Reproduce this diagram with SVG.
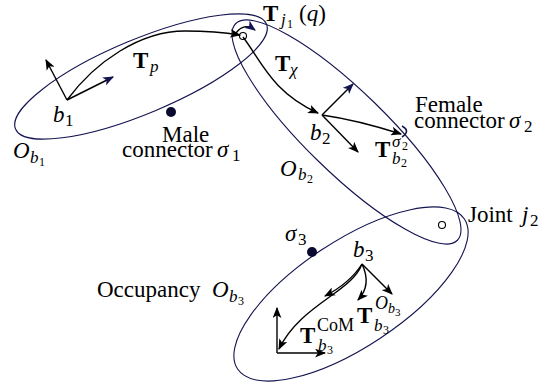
<svg xmlns="http://www.w3.org/2000/svg" width="556" height="392" viewBox="0 0 556 392">
<defs>
<marker id="ah" viewBox="0 0 10 8" refX="9" refY="4" markerWidth="11" markerHeight="9" orient="auto" markerUnits="userSpaceOnUse"><path d="M0,0 L10,4 L0,8 L2.5,4 z" fill="#000"/></marker>
<marker id="ahn" viewBox="0 0 10 8" refX="9" refY="4" markerWidth="11" markerHeight="9" orient="auto" markerUnits="userSpaceOnUse"><path d="M0,0 L10,4 L0,8 L2.5,4 z" fill="#141450"/></marker>
<style>
.occ{fill:none;stroke:#141450;stroke-width:1.1}
.ar{fill:none;stroke:#000;stroke-width:1.4;marker-end:url(#ah)}
.arn{fill:none;stroke:#000;stroke-width:1.4;marker-end:url(#ahn)}
.dot{fill:#0a0a30}
.jt{fill:#fff;stroke:#000;stroke-width:1.1}
text{font-family:"Liberation Serif","Times New Roman",serif;font-size:23px;fill:#000}
.bf{font-weight:bold}
.it{font-style:italic}
.s{font-size:17px}
.ss{font-size:12px}
</style>
</defs>

<g id="body1">
<ellipse class="occ" cx="141" cy="76.5" rx="136" ry="37" transform="rotate(-22.7 141 76.5)"/>
<path class="ar" d="M67,100 L46,60"/>
<path class="arn" d="M67,100 L113,77"/>
<text class="it" x="53" y="122">b<tspan class="s" font-style="normal" x="65" y="126">1</tspan></text>
<text class="it" x="13" y="158">O<tspan class="s" x="30" y="163">b</tspan><tspan class="ss" font-style="normal" x="39" y="166">1</tspan></text>
</g>

<g id="body2">
<ellipse class="occ" cx="346.5" cy="132" rx="155" ry="40.5" transform="rotate(44.3 346.5 132)"/>
<path class="arn" d="M322,115 L353,84"/>
<path class="ar" d="M322,115 L358,152"/>
<text class="it" x="310" y="140">b<tspan class="s" font-style="normal" x="322" y="144">2</tspan></text>
<text class="it" x="280" y="176">O<tspan class="s" x="298" y="180">b</tspan><tspan class="ss" font-style="normal" x="307" y="183">2</tspan></text>
</g>

<g id="body3">
<ellipse class="occ" cx="351" cy="294" rx="136" ry="53" transform="rotate(-33.5 351 294)"/>
<path class="ar" d="M277,353 L277,308"/>
<path class="ar" d="M277,353 L325,353"/>
<text class="it" x="353" y="257">b<tspan class="s" font-style="normal" x="365" y="261">3</tspan></text>
<text x="97" y="297">Occupancy <tspan class="it" x="212" y="297">O</tspan><tspan class="it s" x="229" y="302">b</tspan><tspan class="ss" x="238" y="305">3</tspan></text>
</g>

<g id="joint1">
<circle class="jt" cx="243" cy="36" r="3.5"/>
<path d="M236,33 Q244,22 255,30" fill="none" stroke="#000" stroke-width="1.3" marker-end="url(#ahn)"/>
<text class="bf" x="263" y="21">T<tspan class="it s" font-weight="normal" x="281" y="25">j</tspan><tspan class="ss" font-weight="normal" x="287" y="28">1</tspan><tspan font-weight="normal" x="299" y="21">(<tspan class="it">q</tspan>)</tspan></text>
</g>

<g id="joint2">
<circle class="jt" cx="442" cy="225" r="3.5"/>
<text x="468" y="222">Joint <tspan class="it" x="522">j</tspan><tspan class="s" x="530" y="226">2</tspan></text>
</g>

<g id="connector1">
<circle class="dot" cx="171" cy="112" r="5"/>
<text x="162" y="142">Male</text>
<text x="122" y="157">connector <tspan class="it" x="217">σ</tspan><tspan class="s" x="232" y="161">1</tspan></text>
</g>

<g id="connector2">
<path d="M402,126 Q411,131 402,137" fill="none" stroke="#141450" stroke-width="1.6"/>
<text x="415" y="112">Female</text>
<text x="414" y="128">connector <tspan class="it" x="509">σ</tspan><tspan class="s" x="524" y="132">2</tspan></text>
</g>

<g id="connector3">
<circle class="dot" cx="312" cy="252" r="5"/>
<text class="it" x="285" y="241">σ<tspan class="s" font-style="normal" x="298" y="245">3</tspan></text>
</g>

<g id="connectors">
<path class="ar" d="M67,100 C95,62 140,31 185,31 C210,31 228,33 240,35"/>
<path class="ar" d="M243,37 C262,62 272,92 318,113"/>
<path class="ar" d="M322,115 Q357,120 401,134"/>
<path class="ar" d="M362,264 Q350,283 325,296"/>
<path class="ar" d="M362,264 Q372,285 358,300"/>
<path class="ar" d="M362,264 L392,294"/>
<path class="ar" d="M362,264 C352,292 300,305 279,349"/>
</g>

<g id="labels">
<text class="bf" x="133" y="68">T<tspan class="it s" font-weight="normal" x="150" y="72">p</tspan></text>
<text class="bf" x="275" y="71">T<tspan class="it s" font-weight="normal" x="290" y="75">χ</tspan></text>
<text class="bf" x="375" y="157">T<tspan class="it s" font-weight="normal" x="392" y="147">σ</tspan><tspan class="ss" font-weight="normal" x="402" y="150">2</tspan><tspan class="it s" font-weight="normal" x="392" y="164">b</tspan><tspan class="ss" font-weight="normal" x="401" y="167">2</tspan></text>
<text class="bf" x="300" y="343">T<tspan font-size="18" font-weight="normal" x="317" y="331">CoM</tspan><tspan class="it s" font-weight="normal" x="318" y="351">b</tspan><tspan class="ss" font-weight="normal" x="327" y="354">3</tspan></text>
<text class="bf" x="357" y="323">T<tspan class="it" font-weight="normal" font-size="18" x="375" y="309">O</tspan><tspan class="it" font-size="14" font-weight="normal" x="388" y="313">b</tspan><tspan font-weight="normal" font-size="11" x="395" y="316">3</tspan><tspan class="it s" font-weight="normal" x="374" y="331">b</tspan><tspan class="ss" font-weight="normal" x="383" y="334">3</tspan></text>
</g>
</svg>
